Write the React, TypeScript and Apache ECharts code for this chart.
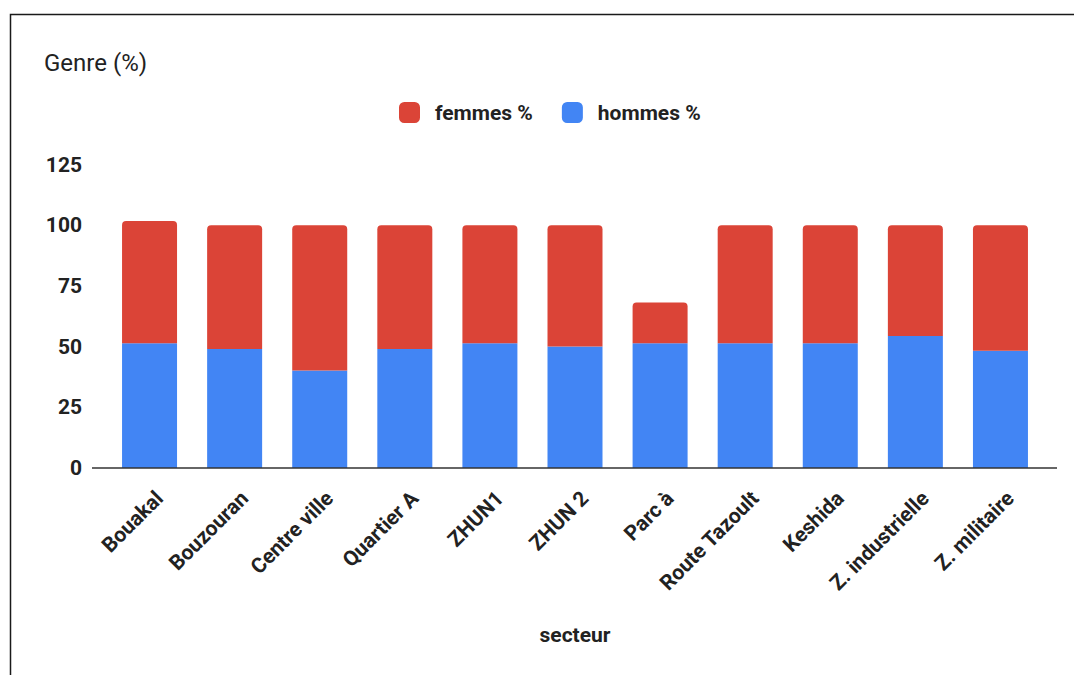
import React, { useEffect, useRef } from "react";
import * as echarts from "echarts";

const categories = [
  "Bouakal",
  "Bouzouran",
  "Centre ville",
  "Quartier A",
  "ZHUN1",
  "ZHUN 2",
  "Parc à",
  "Route Tazoult",
  "Keshida",
  "Z. industrielle",
  "Z. militaire",
];
const hommes = [51.4, 49.0, 40.2, 49.0, 51.4, 50.0, 51.4, 51.4, 51.4, 54.4, 48.3];
const femmes = [50.3, 51.0, 59.8, 51.0, 48.6, 50.0, 16.8, 48.6, 48.6, 45.6, 51.7];
const yTicks = { min: 0, max: 125, interval: 25 };

const FONT = "Roboto, Arial, sans-serif";

export default function App() {
  const ref = useRef<HTMLDivElement>(null);
  useEffect(() => {
    if (!ref.current) return;
    const chart = echarts.init(ref.current, null, { renderer: "svg" });
    chart.setOption({
      animation: false,
      backgroundColor: "#ffffff",
      title: {
        text: "Genre (%)",
        left: 44,
        top: 51,
        padding: 0,
        textStyle: { fontFamily: FONT, fontSize: 24, fontWeight: "normal", color: "#222222" },
      },
      legend: {
        data: ["femmes %", "hommes %"],
        left: 399,
        top: 102,
        padding: 0,
        icon: "roundRect",
        itemWidth: 21,
        itemHeight: 21,
        itemGap: 29,
        textStyle: { fontFamily: FONT, fontSize: 21, fontWeight: "bold", color: "#222222", padding: [0, 0, 0, 10] },
      },
      grid: { left: 107, right: 31, top: 164.5, bottom: 207, containLabel: false },
      xAxis: {
        type: "category",
        data: categories,
        axisLine: { show: false },
        axisTick: { show: false },
        axisLabel: {
          rotate: 45,
          interval: 0,
          margin: 0,
          verticalAlign: "top",
          lineHeight: 52,
          padding: [0, 12, 0, 0],
          fontFamily: FONT,
          fontSize: 21,
          fontWeight: "bold",
          color: "#222222",
        },
        name: "secteur",
        nameLocation: "middle",
        nameGap: 156,
        nameTextStyle: { fontFamily: FONT, fontSize: 21, fontWeight: "bold", color: "#222222" },
      },
      yAxis: {
        type: "value",
        min: yTicks.min,
        max: yTicks.max,
        interval: yTicks.interval,
        splitLine: { show: false },
        axisLine: { show: false },
        axisTick: { show: false },
        axisLabel: {
          margin: 25,
          fontFamily: FONT,
          fontSize: 21,
          fontWeight: "bold",
          color: "#222222",
        },
      },
      series: [
        {
          name: "hommes %",
          type: "bar",
          stack: "total",
          barWidth: 55,
          data: hommes,
          itemStyle: { color: "#4285f4" },
        },
        {
          name: "femmes %",
          type: "bar",
          stack: "total",
          barWidth: 55,
          data: femmes,
          itemStyle: { color: "#db4437", borderRadius: [4, 4, 0, 0] },
        },
      ],
      graphic: [
        {
          type: "line",
          shape: { x1: 92, y1: 468, x2: 1057, y2: 468 },
          style: { stroke: "#333333", lineWidth: 1.5 },
          z: 10,
        },
        {
          type: "rect",
          shape: { x: 10.5, y: 14.5, width: 1200, height: 800 },
          style: { fill: "none", stroke: "#1a1a1a", lineWidth: 1.5 },
          silent: true,
        },
      ],
    });
    return () => chart.dispose();
  }, []);
  return (
    <div
      ref={ref}
      style={{ position: "absolute", left: 0, top: 0, width: 1074, height: 675, background: "#fff" }}
    />
  );
}
